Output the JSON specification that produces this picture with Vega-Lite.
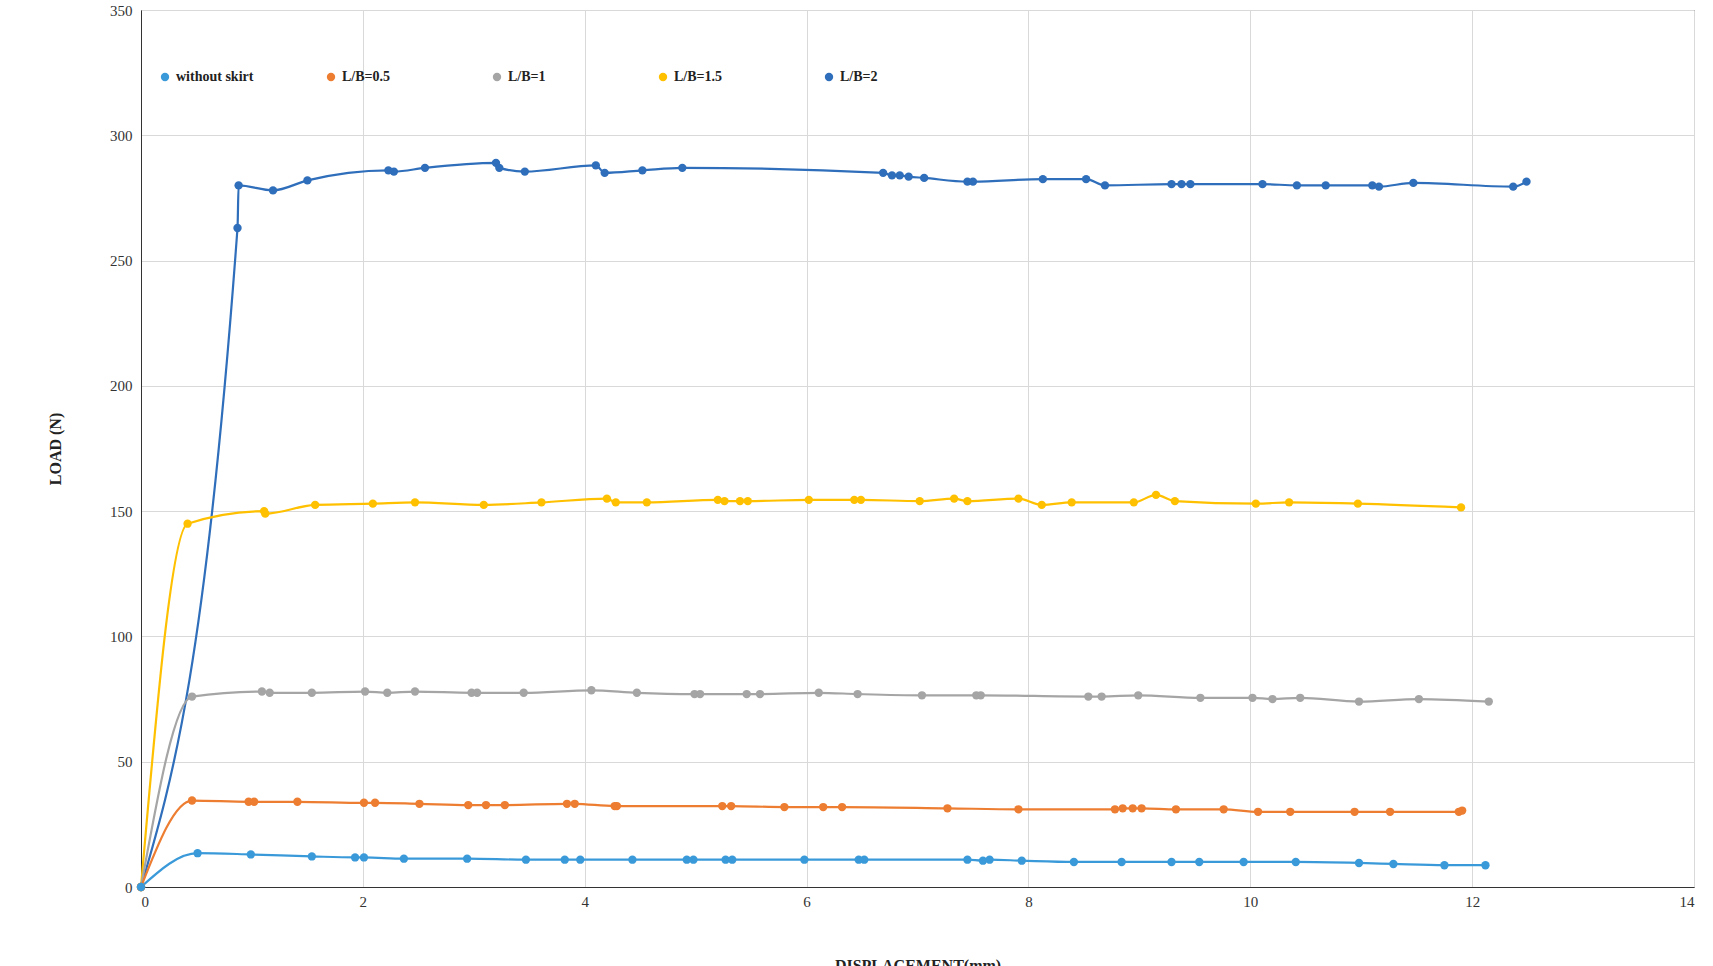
{
  "$schema": "https://vega.github.io/schema/vega-lite/v6.json",
  "width": 1553,
  "height": 877,
  "autosize": "none",
  "padding": {"left": 141, "top": 10, "right": 19, "bottom": 79},
  "background": "white",
  "config": {
    "view": {"stroke": "#333", "strokeWidth": 1},
    "font": "Liberation Serif",
    "axis": {"labelFont": "Liberation Serif", "labelFontSize": 15, "labelColor": "#333", "titleFont": "Liberation Serif", "titleFontSize": 16, "titleFontWeight": "bold", "titleColor": "#222", "gridColor": "#d9d9d9", "ticks": false, "domainColor": "#333"}
  },
  "data": {"values": [
    {"s":"L/B=2","x":0,"y":0},{"s":"L/B=2","x":0.87,"y":263},{"s":"L/B=2","x":0.88,"y":280},{"s":"L/B=2","x":1.19,"y":278},{"s":"L/B=2","x":1.5,"y":282},{"s":"L/B=2","x":2.23,"y":286},{"s":"L/B=2","x":2.28,"y":285.5},{"s":"L/B=2","x":2.56,"y":287},{"s":"L/B=2","x":3.2,"y":289},{"s":"L/B=2","x":3.23,"y":287},{"s":"L/B=2","x":3.46,"y":285.5},{"s":"L/B=2","x":4.1,"y":288},{"s":"L/B=2","x":4.18,"y":285},{"s":"L/B=2","x":4.52,"y":286},{"s":"L/B=2","x":4.88,"y":287},{"s":"L/B=2","x":6.69,"y":285},{"s":"L/B=2","x":6.77,"y":284},{"s":"L/B=2","x":6.84,"y":284},{"s":"L/B=2","x":6.92,"y":283.5},{"s":"L/B=2","x":7.06,"y":283},{"s":"L/B=2","x":7.45,"y":281.5},{"s":"L/B=2","x":7.5,"y":281.5},{"s":"L/B=2","x":8.13,"y":282.5},{"s":"L/B=2","x":8.52,"y":282.5},{"s":"L/B=2","x":8.69,"y":280},{"s":"L/B=2","x":9.29,"y":280.5},{"s":"L/B=2","x":9.38,"y":280.5},{"s":"L/B=2","x":9.46,"y":280.5},{"s":"L/B=2","x":10.11,"y":280.5},{"s":"L/B=2","x":10.42,"y":280},{"s":"L/B=2","x":10.68,"y":280},{"s":"L/B=2","x":11.1,"y":280},{"s":"L/B=2","x":11.16,"y":279.5},{"s":"L/B=2","x":11.47,"y":281},{"s":"L/B=2","x":12.37,"y":279.5},{"s":"L/B=2","x":12.49,"y":281.5},
    {"s":"L/B=1.5","x":0,"y":0},{"s":"L/B=1.5","x":0.42,"y":145},{"s":"L/B=1.5","x":1.11,"y":150},{"s":"L/B=1.5","x":1.12,"y":149},{"s":"L/B=1.5","x":1.57,"y":152.5},{"s":"L/B=1.5","x":2.09,"y":153},{"s":"L/B=1.5","x":2.47,"y":153.5},{"s":"L/B=1.5","x":3.09,"y":152.5},{"s":"L/B=1.5","x":3.61,"y":153.5},{"s":"L/B=1.5","x":4.2,"y":155},{"s":"L/B=1.5","x":4.28,"y":153.5},{"s":"L/B=1.5","x":4.56,"y":153.5},{"s":"L/B=1.5","x":5.2,"y":154.5},{"s":"L/B=1.5","x":5.26,"y":154},{"s":"L/B=1.5","x":5.4,"y":154},{"s":"L/B=1.5","x":5.47,"y":154},{"s":"L/B=1.5","x":6.02,"y":154.5},{"s":"L/B=1.5","x":6.43,"y":154.5},{"s":"L/B=1.5","x":6.49,"y":154.5},{"s":"L/B=1.5","x":7.02,"y":154},{"s":"L/B=1.5","x":7.33,"y":155},{"s":"L/B=1.5","x":7.45,"y":154},{"s":"L/B=1.5","x":7.91,"y":155},{"s":"L/B=1.5","x":8.12,"y":152.5},{"s":"L/B=1.5","x":8.39,"y":153.5},{"s":"L/B=1.5","x":8.95,"y":153.5},{"s":"L/B=1.5","x":9.15,"y":156.5},{"s":"L/B=1.5","x":9.32,"y":154},{"s":"L/B=1.5","x":10.05,"y":153},{"s":"L/B=1.5","x":10.35,"y":153.5},{"s":"L/B=1.5","x":10.97,"y":153},{"s":"L/B=1.5","x":11.9,"y":151.5},
    {"s":"L/B=1","x":0,"y":0},{"s":"L/B=1","x":0.46,"y":76},{"s":"L/B=1","x":1.09,"y":78},{"s":"L/B=1","x":1.16,"y":77.5},{"s":"L/B=1","x":1.54,"y":77.5},{"s":"L/B=1","x":2.02,"y":78},{"s":"L/B=1","x":2.22,"y":77.5},{"s":"L/B=1","x":2.47,"y":78},{"s":"L/B=1","x":2.98,"y":77.5},{"s":"L/B=1","x":3.03,"y":77.5},{"s":"L/B=1","x":3.45,"y":77.5},{"s":"L/B=1","x":4.06,"y":78.5},{"s":"L/B=1","x":4.47,"y":77.5},{"s":"L/B=1","x":4.99,"y":77},{"s":"L/B=1","x":5.04,"y":77},{"s":"L/B=1","x":5.46,"y":77},{"s":"L/B=1","x":5.58,"y":77},{"s":"L/B=1","x":6.11,"y":77.5},{"s":"L/B=1","x":6.46,"y":77},{"s":"L/B=1","x":7.04,"y":76.5},{"s":"L/B=1","x":7.53,"y":76.5},{"s":"L/B=1","x":7.57,"y":76.5},{"s":"L/B=1","x":8.54,"y":76},{"s":"L/B=1","x":8.66,"y":76},{"s":"L/B=1","x":8.99,"y":76.5},{"s":"L/B=1","x":9.55,"y":75.5},{"s":"L/B=1","x":10.02,"y":75.5},{"s":"L/B=1","x":10.2,"y":75},{"s":"L/B=1","x":10.45,"y":75.5},{"s":"L/B=1","x":10.98,"y":74},{"s":"L/B=1","x":11.52,"y":75},{"s":"L/B=1","x":12.15,"y":74},
    {"s":"L/B=0.5","x":0,"y":0},{"s":"L/B=0.5","x":0.46,"y":34.5},{"s":"L/B=0.5","x":0.97,"y":34},{"s":"L/B=0.5","x":1.02,"y":34},{"s":"L/B=0.5","x":1.41,"y":34},{"s":"L/B=0.5","x":2.01,"y":33.6},{"s":"L/B=0.5","x":2.11,"y":33.6},{"s":"L/B=0.5","x":2.51,"y":33.2},{"s":"L/B=0.5","x":2.95,"y":32.7},{"s":"L/B=0.5","x":3.11,"y":32.7},{"s":"L/B=0.5","x":3.28,"y":32.7},{"s":"L/B=0.5","x":3.84,"y":33.2},{"s":"L/B=0.5","x":3.91,"y":33.2},{"s":"L/B=0.5","x":4.27,"y":32.3},{"s":"L/B=0.5","x":4.29,"y":32.3},{"s":"L/B=0.5","x":5.24,"y":32.3},{"s":"L/B=0.5","x":5.32,"y":32.3},{"s":"L/B=0.5","x":5.8,"y":31.9},{"s":"L/B=0.5","x":6.15,"y":31.9},{"s":"L/B=0.5","x":6.32,"y":31.9},{"s":"L/B=0.5","x":7.27,"y":31.4},{"s":"L/B=0.5","x":7.91,"y":31},{"s":"L/B=0.5","x":8.78,"y":31},{"s":"L/B=0.5","x":8.85,"y":31.4},{"s":"L/B=0.5","x":8.94,"y":31.4},{"s":"L/B=0.5","x":9.02,"y":31.4},{"s":"L/B=0.5","x":9.33,"y":31},{"s":"L/B=0.5","x":9.76,"y":31},{"s":"L/B=0.5","x":10.07,"y":30},{"s":"L/B=0.5","x":10.36,"y":30},{"s":"L/B=0.5","x":10.94,"y":30},{"s":"L/B=0.5","x":11.26,"y":30},{"s":"L/B=0.5","x":11.88,"y":30},{"s":"L/B=0.5","x":11.91,"y":30.5},
    {"s":"without skirt","x":0,"y":0},{"s":"without skirt","x":0.51,"y":13.5},{"s":"without skirt","x":0.99,"y":13},{"s":"without skirt","x":1.54,"y":12.2},{"s":"without skirt","x":1.93,"y":11.8},{"s":"without skirt","x":2.01,"y":11.8},{"s":"without skirt","x":2.37,"y":11.3},{"s":"without skirt","x":2.94,"y":11.3},{"s":"without skirt","x":3.47,"y":10.9},{"s":"without skirt","x":3.82,"y":10.9},{"s":"without skirt","x":3.96,"y":10.9},{"s":"without skirt","x":4.43,"y":10.9},{"s":"without skirt","x":4.92,"y":10.9},{"s":"without skirt","x":4.98,"y":10.9},{"s":"without skirt","x":5.27,"y":10.9},{"s":"without skirt","x":5.33,"y":10.9},{"s":"without skirt","x":5.98,"y":10.9},{"s":"without skirt","x":6.47,"y":10.9},{"s":"without skirt","x":6.52,"y":10.9},{"s":"without skirt","x":7.45,"y":10.9},{"s":"without skirt","x":7.59,"y":10.5},{"s":"without skirt","x":7.65,"y":10.9},{"s":"without skirt","x":7.94,"y":10.5},{"s":"without skirt","x":8.41,"y":10},{"s":"without skirt","x":8.84,"y":10},{"s":"without skirt","x":9.29,"y":10},{"s":"without skirt","x":9.54,"y":10},{"s":"without skirt","x":9.94,"y":10},{"s":"without skirt","x":10.41,"y":10},{"s":"without skirt","x":10.98,"y":9.6},{"s":"without skirt","x":11.29,"y":9.2},{"s":"without skirt","x":11.75,"y":8.7},{"s":"without skirt","x":12.12,"y":8.7}
  ]},
  "mark": {"type": "line", "interpolate": "monotone", "strokeWidth": 2.2, "point": {"filled": true, "size": 70}},
  "encoding": {
    "x": {"field": "x", "type": "quantitative", "title": "DISPLACEMENT(mm)", "scale": {"domain": [0, 14], "nice": false}, "axis": {"values": [0,2,4,6,8,10,12,14], "titlePadding": 48, "labelPadding": 7}},
    "y": {"field": "y", "type": "quantitative", "title": "LOAD (N)", "scale": {"domain": [0, 350], "nice": false}, "axis": {"values": [0,50,100,150,200,250,300,350], "titlePadding": 46, "labelPadding": 9}},
    "order": {"field": "x", "type": "quantitative"},
    "color": {"field": "s", "type": "nominal",
      "scale": {"domain": ["without skirt","L/B=0.5","L/B=1","L/B=1.5","L/B=2"], "range": ["#3A9AD9","#ED7D31","#A5A5A5","#FFC000","#2F6EBA"]},
      "legend": {"title": null, "orient": "none", "legendX": 17, "legendY": 60, "direction": "horizontal", "columns": 5, "gridAlign": "all", "columnPadding": 70, "labelFont": "Liberation Serif", "labelFontSize": 14, "labelFontWeight": "bold", "labelColor": "#222", "symbolType": "circle", "symbolSize": 70, "symbolStrokeWidth": 0}
    }
  }
}
